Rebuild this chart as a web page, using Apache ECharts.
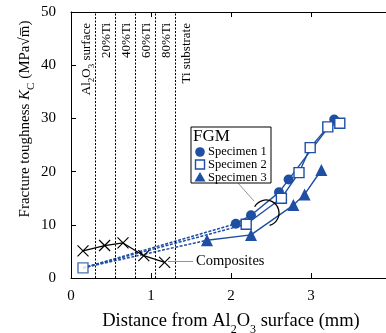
<!DOCTYPE html>
<html><head><meta charset="utf-8">
<script src="https://cdn.jsdelivr.net/npm/echarts@6/dist/echarts.min.js"></script>
<style>html,body{margin:0;padding:0;background:#fff}#c{width:386px;height:333px}</style>
</head><body><div id="c"></div>
<script>
const xTicks = [0, 1, 2, 3, 4];
const yTicks = [0, 10, 20, 30, 40, 50];
const composites = [[0.15, 5.1], [0.42, 6.1], [0.65, 6.6], [0.91, 4.2], [1.17, 2.95]];
const surface = [0.15, 1.9];
const specimen1 = [[2.06, 10.2], [2.25, 11.8], [2.60, 16.1], [2.72, 18.5], [3.29, 29.8]];
const specimen2 = [[2.19, 10.1], [2.63, 15.0], [2.85, 19.8], [2.99, 24.5], [3.21, 28.4], [3.36, 29.1]];
const specimen3 = [[1.70, 7.1], [2.25, 8.1], [2.78, 13.7], [2.92, 15.7], [3.13, 20.3]];
const boundaries = [0.3, 0.55, 0.8, 1.05, 1.3];
const layerLabels = ['{t|Al}{s|2}{t|O}{s|3}{t| surface}', '20%Ti', '40%Ti', '60%Ti', '80%Ti', 'Ti substrate'];
const layerCenters = [0.19, 0.445, 0.70, 0.95, 1.195, 1.445];
const seriesNames = ['Specimen 1', 'Specimen 2', 'Specimen 3'];

const FONT = 'Liberation Serif';
const BLUE = '#1f4fa3';
const chart = echarts.init(document.getElementById('c'), null, {renderer: 'canvas'});

const axisCommon = {
  min: 0, axisLine: {show: true, lineStyle: {color: '#000', width: 1}},
  axisTick: {show: true, inside: true, length: 5, lineStyle: {color: '#000'}},
  splitLine: {show: false}
};
const crossX = 'path://M0,0L10,10M10,0L0,10';
const specs = [specimen1, specimen2, specimen3];
const symbols = ['circle', 'rect', 'triangle'];
const fills = [BLUE, '#fff', BLUE];

const series = [];
series.push({
  type: 'line', data: boundaries.map(v => [v, 0]), symbol: 'none', lineStyle: {opacity: 0}, silent: true,
  markLine: {symbol: 'none', silent: true, label: {show: false},
    lineStyle: {color: '#000', type: [2, 1.5], width: 1},
    data: boundaries.map(v => ({xAxis: v}))}
});
specs.forEach((d, i) => {
  series.push({type: 'line', data: [surface, d[0]], symbol: 'none', silent: true,
    lineStyle: {color: BLUE, width: 1.5, type: [3, 1.5]}, z: 2});
});
series.push({
  name: 'Composites', type: 'line', data: composites, symbol: crossX, symbolSize: 11,
  itemStyle: {color: 'transparent', borderColor: '#000', borderWidth: 1.2},
  lineStyle: {color: '#000', width: 1.2}, z: 3
});
specs.forEach((d, i) => {
  series.push({name: seriesNames[i], type: 'line', data: d, symbol: symbols[i],
    symbolSize: i === 2 ? 12 : 10,
    itemStyle: {color: fills[i], borderColor: BLUE, borderWidth: i === 1 ? 1.4 : 0},
    lineStyle: {color: BLUE, width: 1.4}, z: 4});
});
series.push({type: 'scatter', data: [surface], symbol: 'rect', symbolSize: 10,
  itemStyle: {color: '#fff', borderColor: BLUE, borderWidth: 1.4}, z: 5});

chart.setOption({
  animation: false,
  grid: {left: 71, top: 12, right: -5, bottom: 55, containLabel: false, outerBoundsMode: 'none'},
  xAxis: [
    Object.assign({}, axisCommon, {type: 'value', max: 4, interval: 1, position: 'bottom',
      axisLabel: {show: true, margin: 11, color: '#000', fontFamily: FONT, fontSize: 15}}),
    Object.assign({}, axisCommon, {type: 'value', max: 4, interval: 1, position: 'top',
      axisLabel: {show: false}})
  ],
  yAxis: [
    Object.assign({}, axisCommon, {type: 'value', max: 50, interval: 10,
      axisLabel: {show: true, margin: 15, color: '#000', fontFamily: FONT, fontSize: 15}})
  ],
  series: series
});

const g = [];
const rich = {t: {fontFamily: FONT, fontSize: 13, fill: '#000'}, s: {fontFamily: FONT, fontSize: 9, fill: '#000', verticalAlign: 'bottom', lineHeight: 9, padding: [0, 0, -3, 0]}};
layerLabels.forEach((txt, i) => {
  const p = chart.convertToPixel({xAxisIndex: 0, yAxisIndex: 0}, [layerCenters[i], 50]);
  g.push({type: 'text', x: p[0], y: p[1] + 11, rotation: Math.PI / 2,
    style: {text: txt, fontFamily: FONT, fontSize: 13, fill: '#000', align: 'right', verticalAlign: 'middle', rich: rich}});
});
// axis titles
g.push({type: 'text', x: 25, y: 119, rotation: Math.PI / 2,
  style: {text: '{t|Fracture toughness }{i|K}{s|C}{t| (MPa√m̅)}', align: 'center', verticalAlign: 'middle',
    rich: {t: {fontFamily: FONT, fontSize: 15, fill: '#000'}, i: {fontFamily: FONT, fontSize: 15, fontStyle: 'italic', fill: '#000'},
      s: {fontFamily: FONT, fontSize: 11, fill: '#000', verticalAlign: 'bottom', padding: [0, 0, -4, 0]}}}});
g.push({type: 'text', x: 231, y: 321, 
  style: {text: '{t|Distance from Al}{s|2}{t|O}{s|3}{t| surface (mm)}', align: 'center', verticalAlign: 'middle',
    rich: {t: {fontFamily: FONT, fontSize: 18.5, fill: '#000'}, s: {fontFamily: FONT, fontSize: 12, fill: '#000', verticalAlign: 'bottom', padding: [0, 0, -5, 0]}}}});
// legend box
g.push({type: 'rect', shape: {x: 191, y: 127, width: 80, height: 56}, style: {fill: '#fff', stroke: '#000', lineWidth: 1}, z: 10});
g.push({type: 'text', x: 193, y: 137, z: 11, style: {text: 'FGM', fontFamily: FONT, fontSize: 17, fill: '#000', verticalAlign: 'middle'}});
const legY = [152, 164.5, 177.5];
g.push({type: 'circle', shape: {cx: 200, cy: legY[0], r: 4.8}, style: {fill: BLUE}, z: 11});
g.push({type: 'rect', shape: {x: 195.5, y: legY[1] - 4.5, width: 9, height: 9}, style: {fill: '#fff', stroke: BLUE, lineWidth: 1.4}, z: 11});
g.push({type: 'polygon', shape: {points: [[200, legY[2] - 5.5], [205.5, legY[2] + 4], [194.5, legY[2] + 4]]}, style: {fill: BLUE}, z: 11});
seriesNames.forEach((n, i) => {
  g.push({type: 'text', x: 208, y: legY[i], z: 11, style: {text: n, fontFamily: FONT, fontSize: 12.5, fill: '#000', verticalAlign: 'middle'}});
});
// leader lines and annotation
g.push({type: 'line', shape: {x1: 238, y1: 183, x2: 254, y2: 201}, style: {stroke: '#777', lineWidth: 0.8}, z: 9});
g.push({type: 'arc', shape: {cx: 266, cy: 213, r: 13, startAngle: -151 * Math.PI / 180, endAngle: 74 * Math.PI / 180, clockwise: true}, style: {stroke: '#000', lineWidth: 1.3, fill: null}, z: 9});
g.push({type: 'line', shape: {x1: 168, y1: 261.5, x2: 193, y2: 261.5}, style: {stroke: '#777', lineWidth: 0.8}, z: 9});
g.push({type: 'text', x: 196, y: 261.5, z: 9, style: {text: 'Composites', fontFamily: FONT, fontSize: 14.5, fill: '#000', verticalAlign: 'middle'}});
chart.setOption({graphic: {elements: g}});
</script></body></html>
